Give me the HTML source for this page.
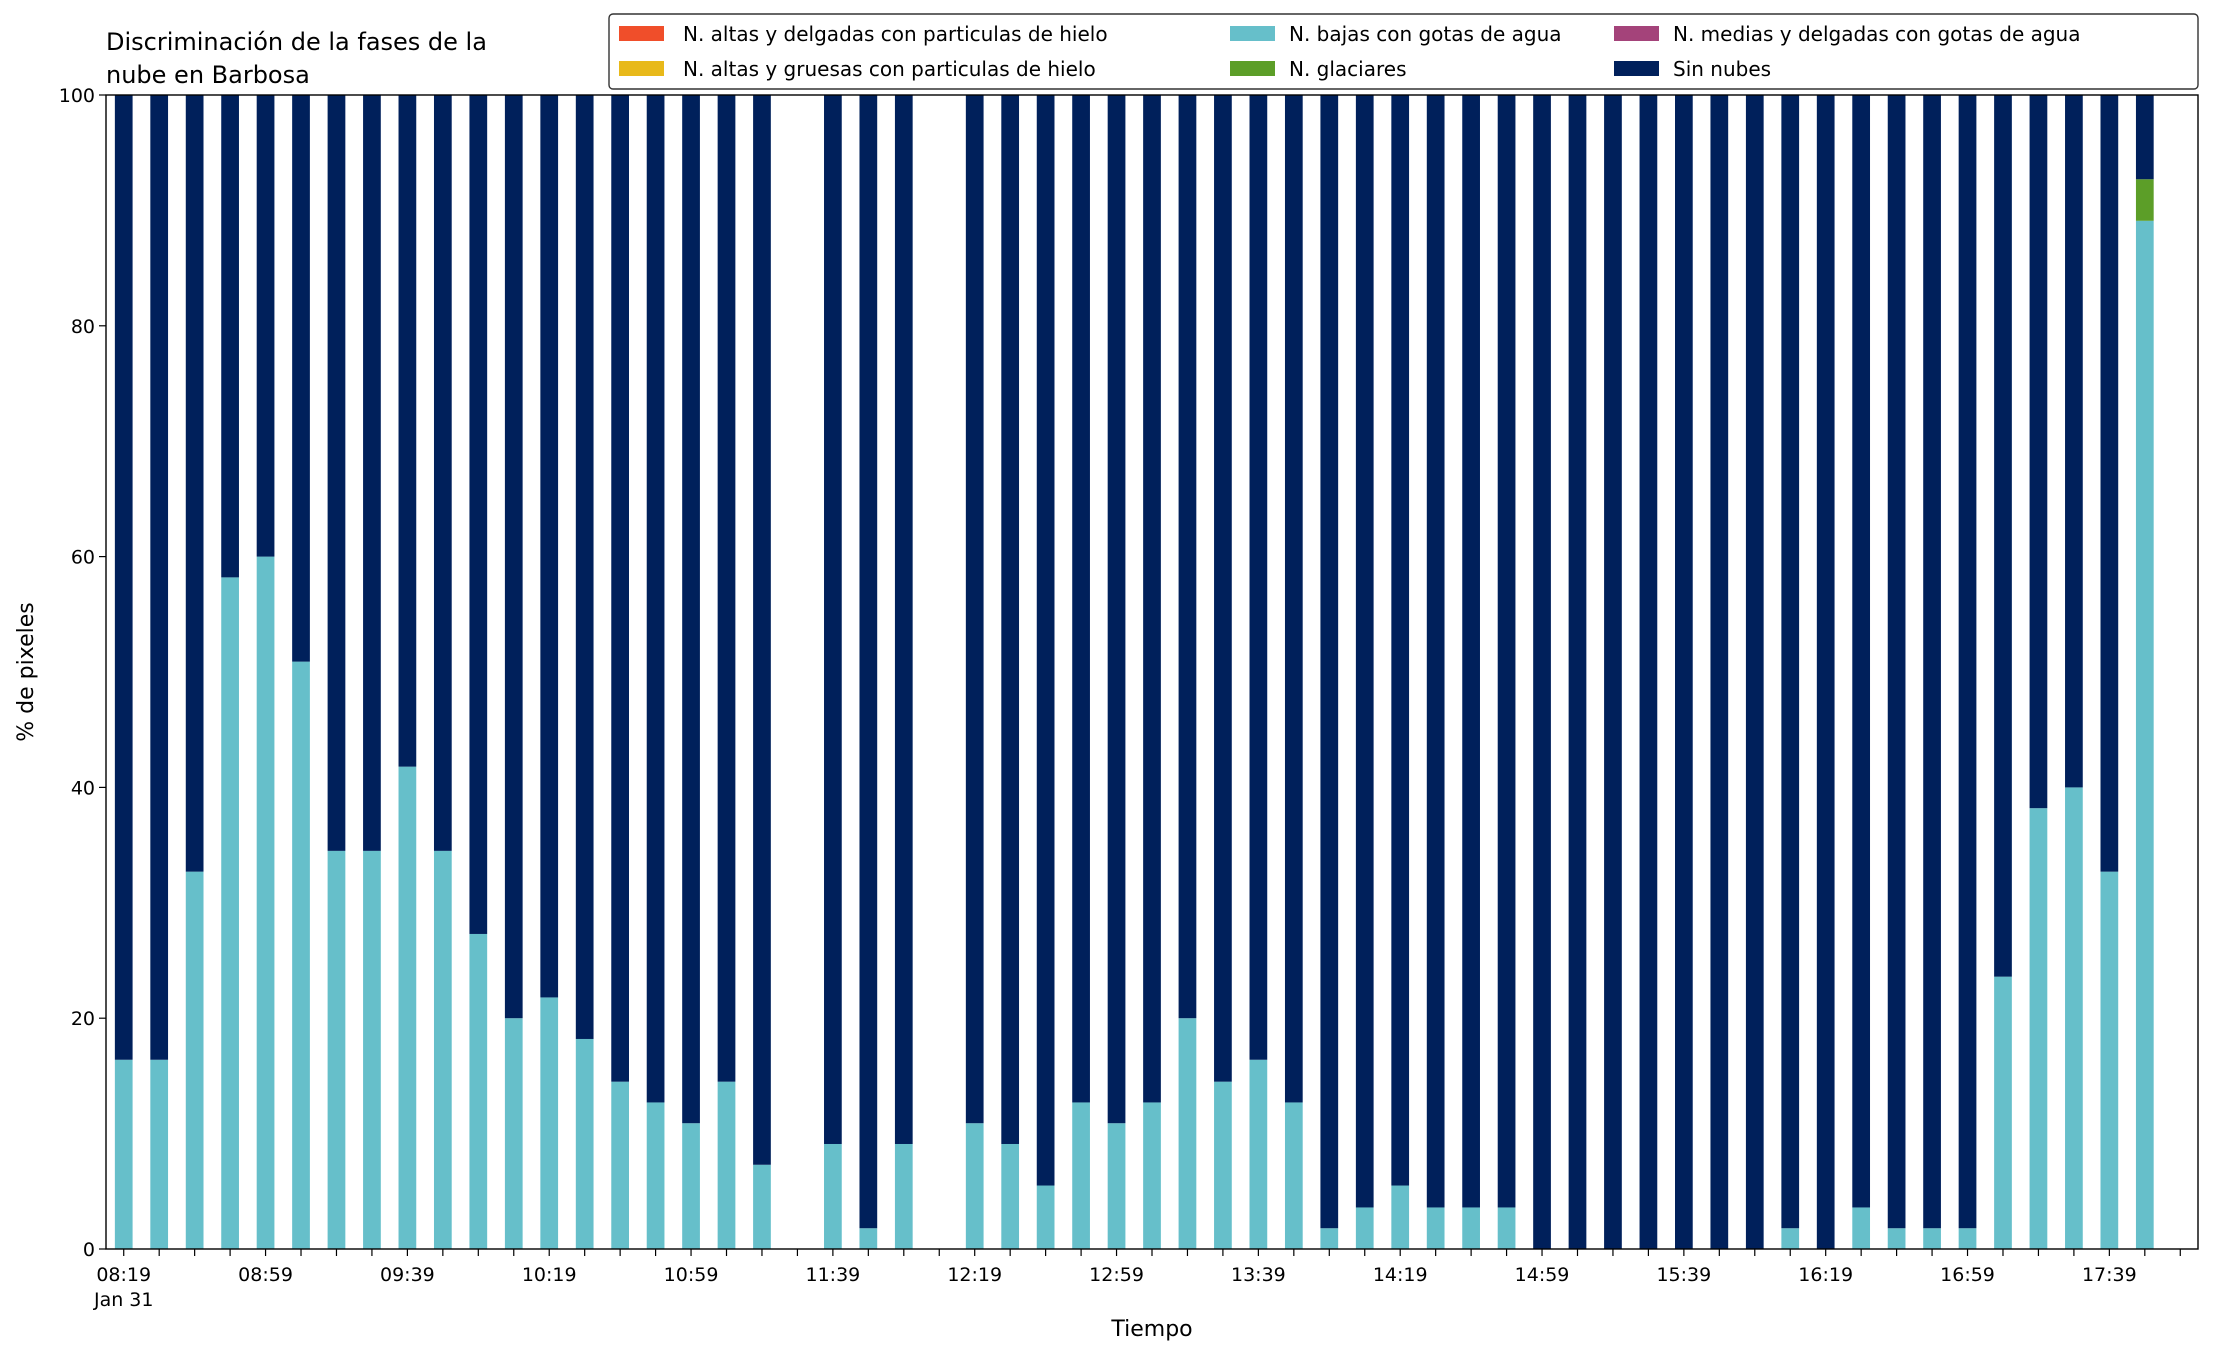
<!DOCTYPE html>
<html><head><meta charset="utf-8"><style>
html,body{margin:0;padding:0;background:#fff}
svg{display:block;font-family:"DejaVu Sans","Liberation Sans",sans-serif}
</style></head><body>
<svg id="chart" width="2216" height="1355" viewBox="0 0 2216 1355">
<text x="106" y="50" font-size="24" fill="#000">Discriminación de la fases de la</text>
<text x="106" y="83" font-size="24" fill="#000">nube en Barbosa</text>
<g id="bars"></g>
<rect x="106" y="95" width="2092" height="1154" fill="none" stroke="#000" stroke-width="1.4"/>
<g id="yaxis"></g>
<g id="xaxis"></g>
<text x="1152" y="1336" font-size="22" text-anchor="middle">Tiempo</text>
<text transform="translate(33,672) rotate(-90)" font-size="22" text-anchor="middle">% de pixeles</text>
<g>
<rect x="609" y="14" width="1589" height="75" rx="4" fill="#fff" stroke="#333" stroke-width="1.4"/>
<g><rect x="619" y="26" width="45" height="15" fill="#f04e2a"/><text x="683" y="41" font-size="20">N. altas y delgadas con particulas de hielo</text></g>
<g><rect x="619" y="61" width="45" height="15" fill="#e8b91a"/><text x="683" y="76" font-size="20">N. altas y gruesas con particulas de hielo</text></g>
<g><rect x="1230" y="26" width="45" height="15" fill="#66bfca"/><text x="1289" y="41" font-size="20">N. bajas con gotas de agua</text></g>
<g><rect x="1230" y="61" width="45" height="15" fill="#5c9e28"/><text x="1289" y="76" font-size="20">N. glaciares</text></g>
<g><rect x="1614" y="26" width="45" height="15" fill="#a4437a"/><text x="1673" y="41" font-size="20">N. medias y delgadas con gotas de agua</text></g>
<g><rect x="1614" y="61" width="45" height="15" fill="#00205b"/><text x="1673" y="76" font-size="20">Sin nubes</text></g>
</g>
</svg>
<script>
const NS="http://www.w3.org/2000/svg";
// null = no data for that slot
const bajas=[16.4,16.4,32.7,58.2,60,50.9,34.5,34.5,41.8,34.5,27.3,20,21.8,18.2,14.5,12.7,10.9,14.5,7.3,null,9.1,1.8,9.1,null,10.9,9.1,5.5,12.7,10.9,12.7,20,14.5,16.4,12.7,1.8,3.6,5.5,3.6,3.6,3.6,0,0,0,0,0,0,0,1.8,0,3.6,1.8,1.8,1.8,23.6,38.2,40,32.7,89.1,null];
const glaciares=[0,0,0,0,0,0,0,0,0,0,0,0,0,0,0,0,0,0,0,null,0,0,0,null,0,0,0,0,0,0,0,0,0,0,0,0,0,0,0,0,0,0,0,0,0,0,0,0,0,0,0,0,0,0,0,0,0,3.6,null];
const tickLabels=["08:19","08:59","09:39","10:19","10:59","11:39","12:19","12:59","13:39","14:19","14:59","15:39","16:19","16:59","17:39"];
const yTicks=[0,20,40,60,80,100];
const L=106,R=2198,T=95,B=1249,n=bajas.length,pitch=(R-L)/n;
const xc=i=>L+pitch*(i+0.5);
const y=v=>B-(B-T)*v/100;
const bars=document.getElementById('bars');
function rect(x,y0,w,h,fill,name){const r=document.createElementNS(NS,'rect');
r.setAttribute('x',x);r.setAttribute('y',y0);r.setAttribute('width',w);r.setAttribute('height',Math.max(0,h));r.setAttribute('fill',fill);


bars.appendChild(r);}
const bw=pitch*0.5;
for(let i=0;i<n;i++){
 if(bajas[i]===null)continue;
 const a=bajas[i],g=glaciares[i]||0;
 const x=xc(i)-bw/2;
 rect(x,y(a),bw,y(0)-y(a),'#66bfca','bar-bajas-'+i);
 rect(x,y(a+g),bw,y(a)-y(a+g),'#5c9e28','bar-glaciares-'+i);
 rect(x,y(100),bw,y(a+g)-y(100),'#00205b','bar-sin-nubes-'+i);
}
const ya=document.getElementById('yaxis');
yTicks.forEach(v=>{const l=document.createElementNS(NS,'line');
l.setAttribute('x1',L-7);l.setAttribute('x2',L);l.setAttribute('y1',y(v));l.setAttribute('y2',y(v));l.setAttribute('stroke','#000');l.setAttribute('stroke-width','1.2');


ya.appendChild(l);
const t=document.createElementNS(NS,'text');t.setAttribute('x',L-11);t.setAttribute('y',y(v)+7);t.setAttribute('text-anchor','end');t.setAttribute('font-size','19');t.textContent=v;


ya.appendChild(t);});
const xa=document.getElementById('xaxis');
for(let i=0;i<n;i++){const l=document.createElementNS(NS,'line');
l.setAttribute('x1',xc(i));l.setAttribute('x2',xc(i));l.setAttribute('y1',B);l.setAttribute('y2',B+7);l.setAttribute('stroke','#000');l.setAttribute('stroke-width','1.2');


xa.appendChild(l);}
tickLabels.forEach((s,k)=>{const t=document.createElementNS(NS,'text');t.setAttribute('x',xc(k*4));t.setAttribute('y',B+32);t.setAttribute('text-anchor','middle');t.setAttribute('font-size','19');t.textContent=s;


xa.appendChild(t);});
const j=document.createElementNS(NS,'text');j.setAttribute('x',xc(0));j.setAttribute('y',B+57);j.setAttribute('text-anchor','middle');j.setAttribute('font-size','19');j.textContent='Jan 31';


xa.appendChild(j);
</script>
</body></html>
